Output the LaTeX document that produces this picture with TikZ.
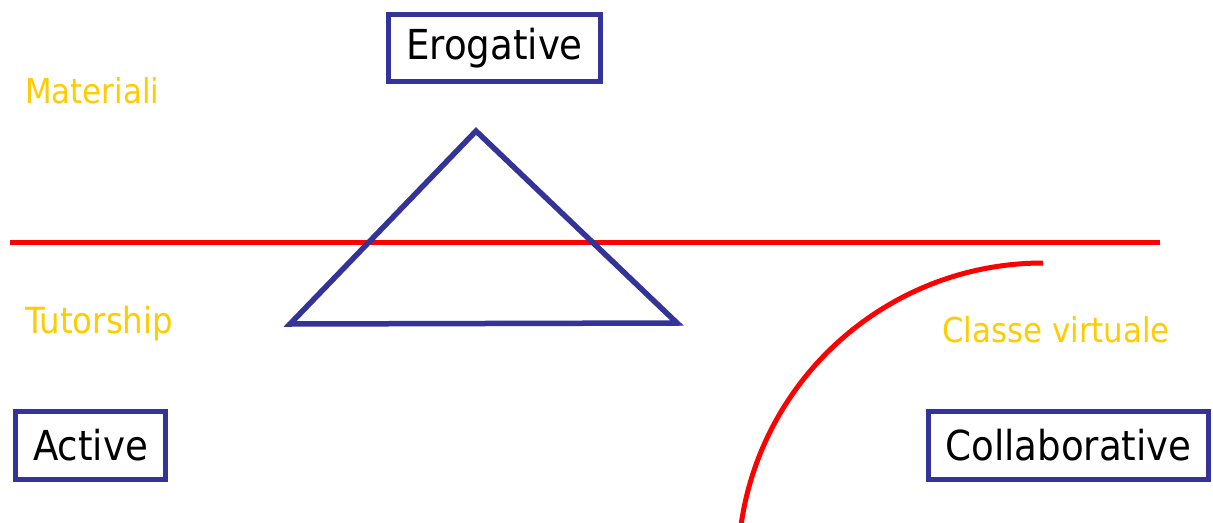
\documentclass[tikz,border=0pt]{standalone}
\usepackage{fontspec}
\setmainfont{DejaVu Sans Condensed}
\usepackage{tikz}
\usetikzlibrary{positioning}
\definecolor{boxblue}{HTML}{333399}
\definecolor{gold}{HTML}{FFCC00}

\begin{document}
\begin{tikzpicture}[
  cat/.style={draw=boxblue,line width=0.1cm,fill=white,inner sep=0pt,
    minimum height=1.35cm,font=\fontsize{23.5}{28}\selectfont},
  tag/.style={text=gold,anchor=base west,inner sep=0pt,font=\fontsize{19.5}{23}\selectfont},
  cut/.style={red,line width=0.1cm}]
\useasboundingbox (0,0) rectangle (24.26,10.44);
\draw[cut] (0.2,5.6) -- (23.2,5.6);
\draw[cut] (20.86,5.18) arc[start angle=90,end angle=172,radius=6.1cm];
\draw[boxblue,line width=0.11cm] (9.52,7.82) -- (13.54,3.98) -- (5.8,3.96) -- cycle;
\node[cat,minimum width=4.24cm] (ero) at (9.89,9.48) {Erogative};
\node[cat,minimum width=3.0cm] (act) at (1.81,1.53) {Active};
\node[cat,minimum width=5.61cm] (col) at (21.37,1.53) {Collaborative};
\node[tag] (mat) at (0.5,8.38) {Materiali};
\node[tag,font=\fontsize{20.5}{24}\selectfont] (tut) at (0.5,3.78) {Tutorship};
\node[tag] (cls) at (18.84,3.6) {Classe virtuale};
\end{tikzpicture}
\end{document}
